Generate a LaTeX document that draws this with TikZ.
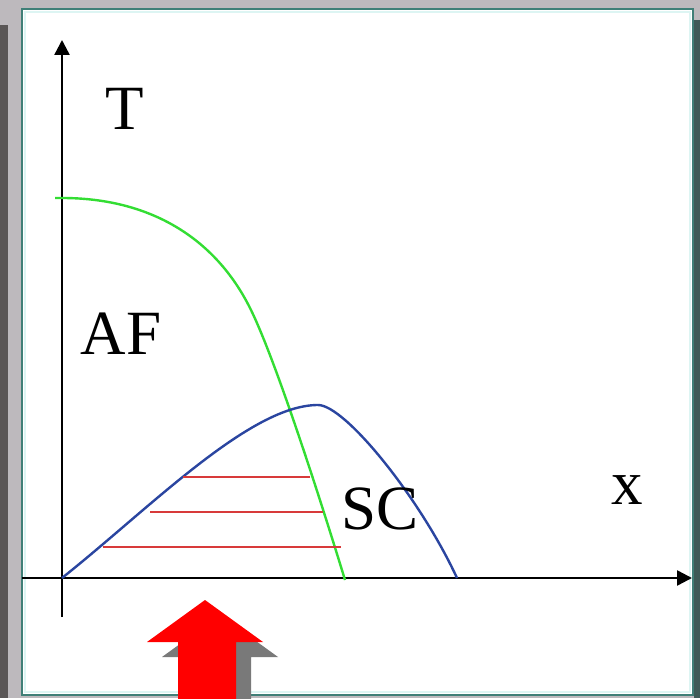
\documentclass[tikz,border=0pt]{standalone}
\usepackage{fontspec}
\setmainfont{Liberation Serif}
\usepackage{tikz}
\usetikzlibrary{arrows.meta,positioning}

\definecolor{frameteal}{HTML}{3F7F77}
\definecolor{framecyan}{HTML}{DDF5F3}
\definecolor{shadelight}{HTML}{BDB9BD}
\definecolor{shadeleft}{HTML}{5A5656}
\definecolor{shaderight}{HTML}{3F5A57}
\definecolor{afgreen}{HTML}{33DD33}
\definecolor{scblue}{HTML}{2A45A0}
\definecolor{stripred}{HTML}{D83A3A}

\begin{document}
\begin{tikzpicture}[
  x=1pt, y=1pt,
  every node/.style={font=\fontsize{63}{70}\selectfont, inner sep=0pt},
  axis/.style={line width=2.4pt, black, -{Triangle[length=15pt,width=15pt]}},
  phase/.style={line width=2.4pt},
  stripe/.style={line width=2.4pt, stripred}
]
\useasboundingbox (0,0) rectangle (700,698);

%% ---- slide frame ----------------------------------------------------
\fill[shadelight] (0,0) rectangle (700,698);
\fill[shadeleft]  (0,0) rectangle (8,673);
\fill[shaderight] (694,0) rectangle (700,678);
\fill[white] (22,3) rectangle (693,689);
\draw[framecyan, line width=1.2pt] (25,6) rectangle (690,686);
\draw[frameteal, line width=2.6pt] (22,3) rectangle (693,689);

%% ---- axes -----------------------------------------------------------
\coordinate (origin) at (62,120);
\coordinate (ybot) at (62,81);
\coordinate (ytop) at (62,658);
\coordinate (xbeg) at (22,120);
\coordinate (xend) at (692,120);

\draw[axis] (ybot) -- (ytop);
\draw[axis] (xbeg) -- (xend);

%% ---- phase boundaries -----------------------------------------------
% AF line
\coordinate (afstart) at (55,500);
\coordinate (afknee)  at (250,390);
\coordinate (afend)   at (345,118);
\draw[phase, afgreen] (afstart) -- (62,500)
  .. controls (150,500) and (215,460) .. (afknee)
  .. controls (275,340) and (320,200) .. (afend);

% SC dome
\coordinate (scpeak) at (318,293);
\coordinate (scend)  at (457,120);
\draw[phase, scblue] (origin)
  .. controls (150,190) and (250,293) .. (scpeak)
  .. controls (345,293) and (420,200) .. (scend);

% coexistence stripes
\draw[stripe] (183,221) -- (310,221);
\draw[stripe] (150,186) -- (323,186);
\draw[stripe] (103,151) -- (341,151);

%% ---- labels ---------------------------------------------------------
\node[anchor=base] (Tlabel)  at (125,568) {T};
\node[anchor=base] (AFlabel) at (121,343) {AF};
\node[anchor=base] (SClabel) at (380,168) {SC};
\node[anchor=base] (xlabel)  at (627,193) {x};

%% ---- doping arrow ---------------------------------------------------
\fill[gray!95!black, xshift=15pt, yshift=-15pt]
  (205,98) -- (263,56) -- (236,56) -- (236,-5)
  -- (178,-5) -- (178,56) -- (147,56) -- cycle;
\fill[red]
  (205,98) -- (263,56) -- (236,56) -- (236,-5)
  -- (178,-5) -- (178,56) -- (147,56) -- cycle;

\end{tikzpicture}
\end{document}
